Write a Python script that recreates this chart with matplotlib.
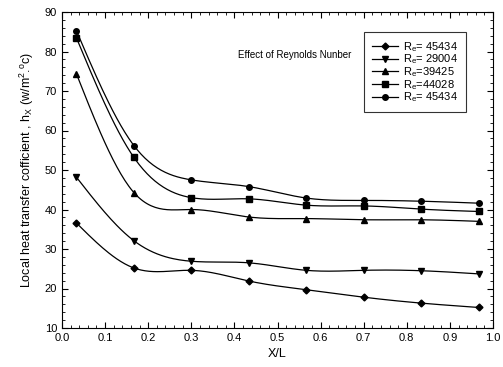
import numpy as np
import matplotlib.pyplot as plt
from matplotlib.ticker import MultipleLocator

plt.rcParams['font.family'] = ['Liberation Sans', 'DejaVu Sans']
plt.rcParams['mathtext.fontset'] = 'custom'
plt.rcParams['mathtext.rm'] = 'Liberation Sans'
plt.rcParams['mathtext.it'] = 'Liberation Sans'

x = [0.0333, 0.1667, 0.3, 0.4333, 0.5667, 0.7, 0.8333, 0.9667]
re_45434a = [36.6, 25.2, 24.6, 21.9, 19.7, 17.8, 16.3, 15.2]
re_29004 = [48.2, 32.1, 26.9, 26.5, 24.6, 24.6, 24.5, 23.7]
re_39425 = [74.4, 44.3, 40.0, 38.1, 37.7, 37.4, 37.4, 37.0]
re_44028 = [83.5, 53.2, 43.0, 42.7, 41.1, 40.9, 40.1, 39.5]
re_45434b = [85.3, 56.2, 47.5, 45.8, 42.9, 42.3, 42.1, 41.6]
labels = ['R$_e$= 45434', 'R$_e$= 29004', 'R$_e$=39425', 'R$_e$=44028', 'R$_e$= 45434']
markers = ['D', 'v', '^', 's', 'o']


def spline(xs, ys, n=200):
    # natural cubic spline through the points, for the smooth connecting line
    xs = np.asarray(xs, float)
    ys = np.asarray(ys, float)
    k = len(xs)
    h = np.diff(xs)
    A = np.zeros((k, k))
    b = np.zeros(k)
    A[0, 0] = A[-1, -1] = 1
    for i in range(1, k - 1):
        A[i, i - 1] = h[i - 1]
        A[i, i] = 2 * (h[i - 1] + h[i])
        A[i, i + 1] = h[i]
        b[i] = 3 * ((ys[i + 1] - ys[i]) / h[i] - (ys[i] - ys[i - 1]) / h[i - 1])
    c = np.linalg.solve(A, b)
    xf = np.linspace(xs[0], xs[-1], n)
    idx = np.clip(np.searchsorted(xs, xf) - 1, 0, k - 2)
    dx = xf - xs[idx]
    bb = (ys[1:] - ys[:-1]) / h - h * (2 * c[:-1] + c[1:]) / 3
    dd = (c[1:] - c[:-1]) / (3 * h)
    yf = ys[idx] + bb[idx] * dx + c[idx] * dx ** 2 + dd[idx] * dx ** 3
    return xf, yf


fig = plt.figure(figsize=(5.03, 3.67), dpi=100)
ax = fig.add_axes([62 / 503, 1 - 328 / 367, 431 / 503, 316 / 367])

for ys, lab, m in zip([re_45434a, re_29004, re_39425, re_44028, re_45434b], labels, markers):
    ms = 3.5 if m == 'D' else 4
    xf, yf = spline(x, ys)
    ax.plot(xf, yf, color='black', lw=0.9)
    ax.plot(x, ys, linestyle='none', marker=m, color='black', markersize=ms)
    ax.plot([], [], color='black', lw=0.9, marker=m, markersize=ms, label=lab)

ax.set_xlim(0, 1)
ax.set_ylim(10, 90)
ax.xaxis.set_major_locator(MultipleLocator(0.1))
ax.xaxis.set_minor_locator(MultipleLocator(0.02))
ax.yaxis.set_major_locator(MultipleLocator(10))
ax.yaxis.set_minor_locator(MultipleLocator(2))
ax.tick_params(which='both', direction='in', top=True, right=True, labelsize=8)
ax.tick_params(which='major', length=4)
ax.tick_params(which='minor', length=2)
ax.xaxis.set_major_formatter(plt.FormatStrFormatter('%.1f'))
ax.set_xlabel('X/L', fontsize=9)
ax.set_ylabel('Local heat transfer cofficient , h$_X$ (w/m$^2$.$^o$c)', fontsize=9, labelpad=6)
ax.text(0.408, 0.855, 'Effect of Reynolds Nunber', transform=ax.transAxes, fontsize=7)

leg = ax.legend(loc='upper left', bbox_to_anchor=(302 / 431, 1 - 20 / 316), fontsize=8, frameon=True,
                fancybox=False, edgecolor='black', handlelength=2.4, labelspacing=-0.1,
                borderpad=0.7, handletextpad=0.4, borderaxespad=0)
leg.get_frame().set_linewidth(0.8)

plt.savefig('out.png', dpi=100)
